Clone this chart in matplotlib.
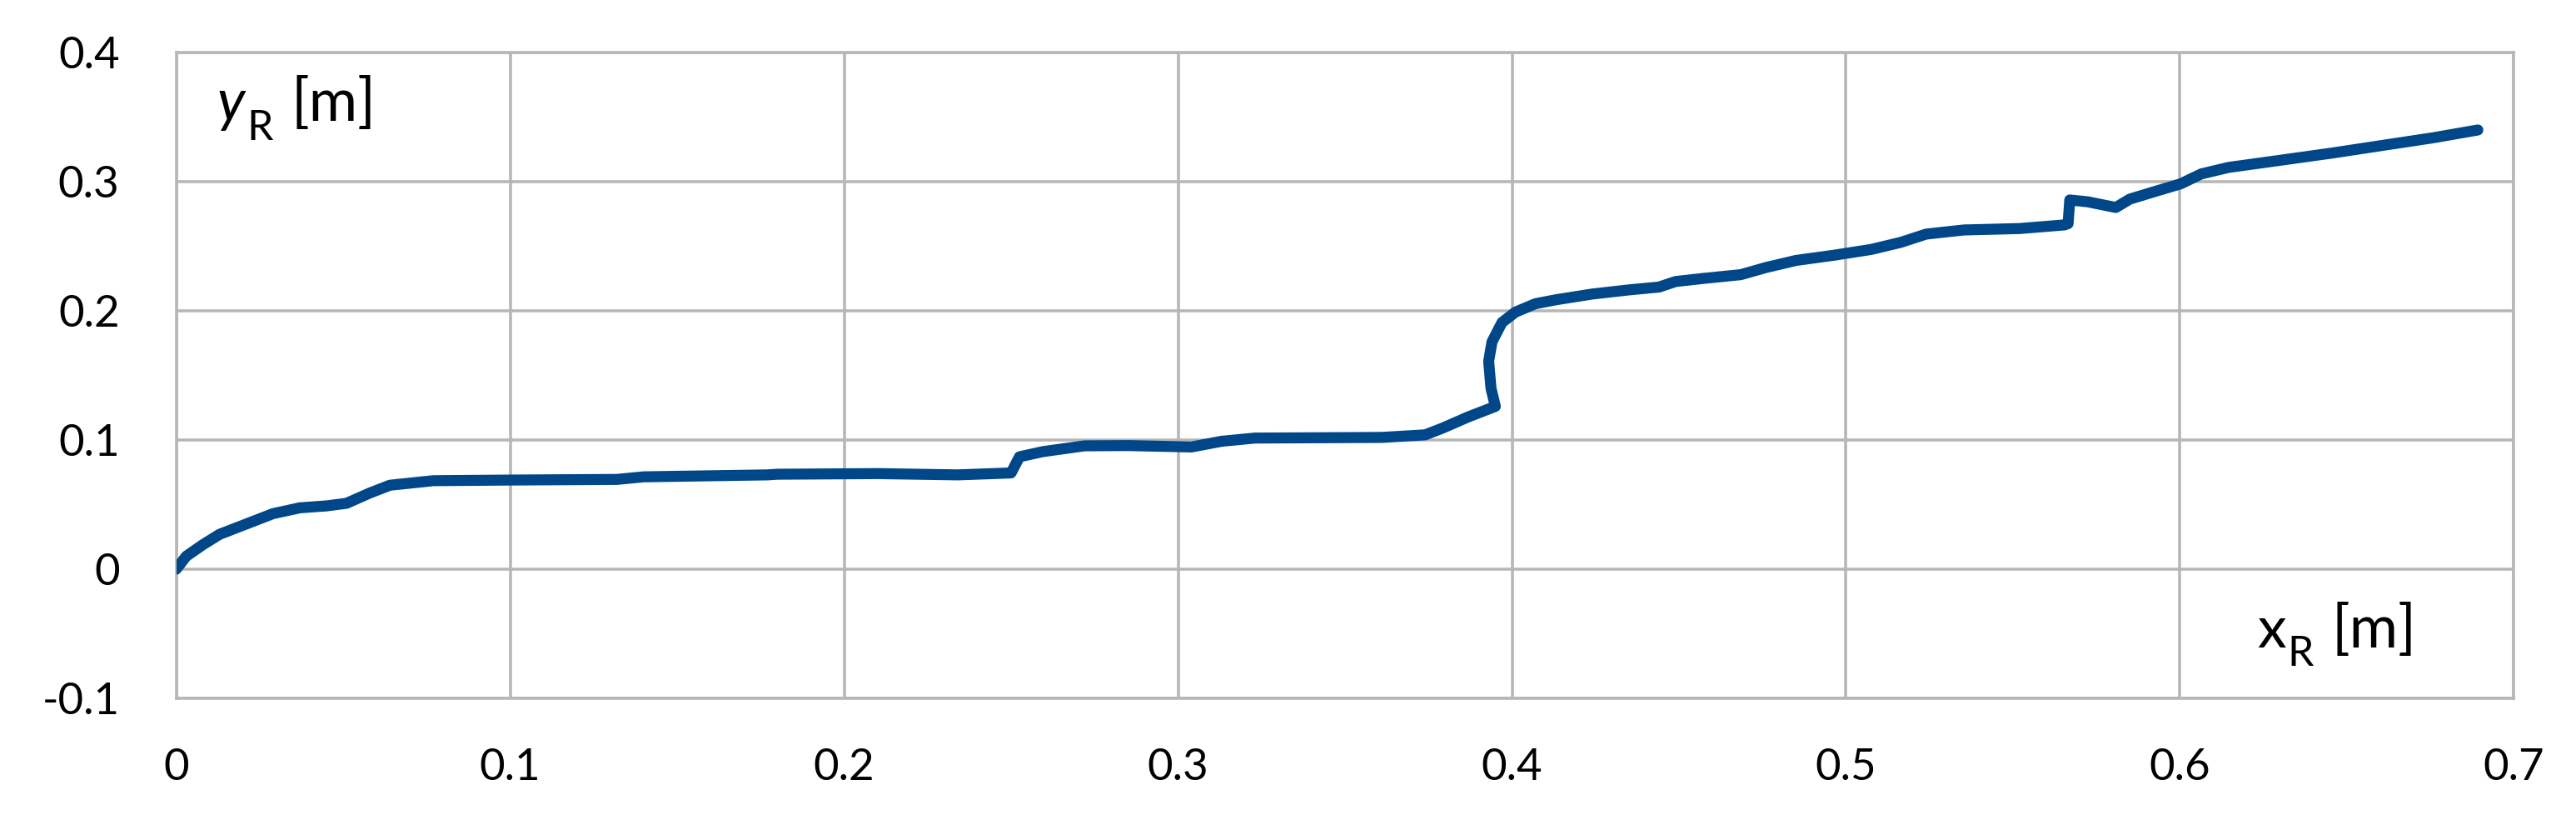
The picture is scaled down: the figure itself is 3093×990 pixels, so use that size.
import matplotlib
matplotlib.use("Agg")
import matplotlib.pyplot as plt

# ---- data ----
x_r = [0.0, 0.003, 0.008, 0.013, 0.021, 0.029, 0.037, 0.045, 0.051, 0.058, 0.064,
       0.077, 0.100, 0.132, 0.140, 0.177, 0.180, 0.210, 0.234, 0.250, 0.2525,
       0.2595, 0.272, 0.285, 0.304, 0.313, 0.323, 0.361, 0.374, 0.379, 0.387,
       0.395, 0.3937, 0.393, 0.394, 0.397, 0.401, 0.407, 0.413, 0.424, 0.435,
       0.444, 0.449, 0.457, 0.4685, 0.476, 0.485, 0.4963, 0.5075, 0.5164, 0.524,
       0.5353, 0.552, 0.5654, 0.5665, 0.567, 0.5724, 0.5808, 0.585, 0.592,
       0.6002, 0.6064, 0.6145, 0.6299, 0.6452, 0.6605, 0.6759, 0.6892]
y_r = [0.0, 0.010, 0.019, 0.027, 0.035, 0.043, 0.0475, 0.049, 0.051, 0.059, 0.065,
       0.0685, 0.069, 0.0695, 0.0715, 0.073, 0.0735, 0.074, 0.073, 0.0745, 0.087,
       0.091, 0.0955, 0.0957, 0.0946, 0.099, 0.1015, 0.102, 0.104, 0.109, 0.118,
       0.126, 0.140, 0.161, 0.176, 0.191, 0.199, 0.2055, 0.2085, 0.213, 0.2162,
       0.2184, 0.2227, 0.225, 0.228, 0.2335, 0.239, 0.243, 0.2475, 0.253, 0.2594,
       0.2626, 0.2637, 0.2665, 0.2675, 0.2858, 0.2844, 0.280, 0.2865, 0.292,
       0.2983, 0.306, 0.311, 0.3165, 0.322, 0.328, 0.334, 0.340]

x_ticks = [0.0, 0.1, 0.2, 0.3, 0.4, 0.5, 0.6, 0.7]
x_tick_labels = ["0", "0.1", "0.2", "0.3", "0.4", "0.5", "0.6", "0.7"]
y_ticks = [-0.1, 0.0, 0.1, 0.2, 0.3, 0.4]
y_tick_labels = ["-0.1", "0", "0.1", "0.2", "0.3", "0.4"]

plt.rcParams['font.family'] = ['Lato', 'DejaVu Sans']

fig = plt.figure(figsize=(30.93, 9.90), dpi=100)
ax = fig.add_axes([0.0684, 0.1535, 0.9759 - 0.0684, 0.9364 - 0.1535])

grid_col = "#B7B7B7"
ax.plot(x_r, y_r, color="#00478A", lw=9.5, solid_capstyle="round",
        solid_joinstyle="round", zorder=3)

ax.set_xlim(0, 0.7)
ax.set_ylim(-0.1, 0.4)
ax.set_xticks(x_ticks)
ax.set_xticklabels(x_tick_labels)
ax.set_yticks(y_ticks)
ax.set_yticklabels(y_tick_labels)
ax.tick_params(axis="both", length=0, labelsize=38, colors="#000000")
ax.tick_params(axis="x", pad=43)
ax.tick_params(axis="y", pad=49)
ax.grid(True, color=grid_col, lw=2.6)
for s in ax.spines.values():
    s.set_color(grid_col)
    s.set_linewidth(2.6)

# axis captions (main letter, subscript, unit)
ax.text(0.0122, 0.3471, "y", fontsize=50, style="italic", ha="left", va="baseline")
ax.text(0.0212, 0.3323, "R", fontsize=36, ha="left", va="baseline")
ax.text(0.0343, 0.3471, "[m]", fontsize=51, ha="left", va="baseline")

ax.text(0.6231, -0.0606, "x", fontsize=50, ha="left", va="baseline")
ax.text(0.6322, -0.0748, "R", fontsize=36, ha="left", va="baseline")
ax.text(0.6455, -0.0606, "[m]", fontsize=51, ha="left", va="baseline")

fig.savefig("out.png", dpi=100, facecolor="white")
